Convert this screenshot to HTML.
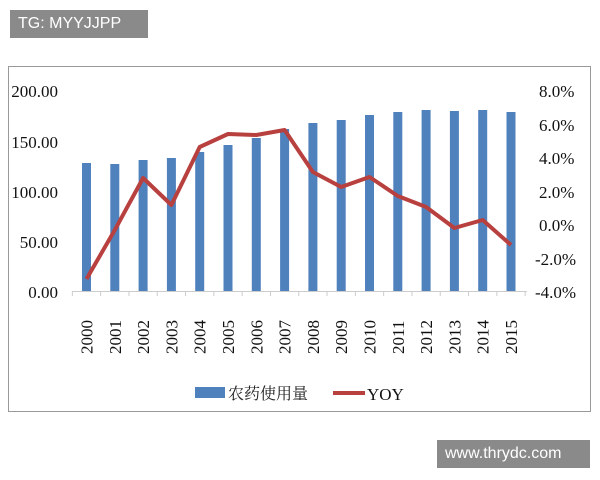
<!DOCTYPE html>
<html><head><meta charset="utf-8"><style>
body{margin:0;background:#fff;width:600px;height:480px;overflow:hidden;position:relative;font-family:"Liberation Serif","Noto Serif CJK SC",serif}
.wm{position:absolute;background:#8a8a8a;color:#fff;font-family:"Liberation Sans",sans-serif;font-size:16px;line-height:28px;padding:0 8px}
</style></head><body>
<svg width="600" height="480" style="position:absolute;left:0;top:0">
<rect x="8.5" y="66.5" width="582" height="345" fill="#fff" stroke="#999" stroke-width="1"/>
<g font-size="17" fill="#111" font-family="Liberation Serif,serif">
<text x="58" y="97" text-anchor="end">200.00</text>
<text x="58" y="148" text-anchor="end">150.00</text>
<text x="58" y="198" text-anchor="end">100.00</text>
<text x="58" y="248" text-anchor="end">50.00</text>
<text x="58" y="298" text-anchor="end">0.00</text>
<text x="539" y="97">8.0%</text>
<text x="539" y="131">6.0%</text>
<text x="539" y="164">4.0%</text>
<text x="539" y="198">2.0%</text>
<text x="539" y="231">0.0%</text>
<text x="535" y="265">-2.0%</text>
<text x="535" y="298">-4.0%</text>
</g>
<line x1="72" y1="291.5" x2="527" y2="291.5" stroke="#ccc"/>
<g id="tk" stroke="#ccc"></g>
<g fill="#4f81bd" id="bars"></g>
<polyline id="ln" fill="none" stroke="#b8403e" stroke-width="4" stroke-linejoin="round"/>
<g id="yrs" font-size="17" fill="#111"></g>
<rect x="195" y="387" width="30" height="11" fill="#4f81bd"/>
<text x="228" y="399" font-size="16" fill="#222">农药使用量</text>
<line x1="333" y1="393" x2="365" y2="393" stroke="#b8403e" stroke-width="4"/>
<text x="367" y="400" font-size="17" fill="#111">YOY</text>
</svg>
<div class="wm" style="left:10px;top:10px;width:122px">TG: MYYJJPP</div>
<div class="wm" style="left:437px;top:440px;width:137px">www.thrydc.com</div>
<script>
var v=[128,127,131,133,139,146,153,162,168,171,176,179,181,180,181,179];
var ly=[279,230,178,205,147,134,135,130,172,187,177,196,207,228,220,245];
var b="",p=[],t="",k="";
for(var i=0;i<16;i++){var c=86.5+28.3*i;
b+='<rect x="'+(c-4.5)+'" y="'+(291-v[i])+'" width="9" height="'+v[i]+'"/>';
p.push(c+","+ly[i]);
k+='<line x1="'+(c-14.15)+'" y1="291" x2="'+(c-14.15)+'" y2="296"/>';
t+='<text transform="translate('+(c+6)+',354) rotate(-90)">'+(2000+i)+'</text>';}
k+='<line x1="'+(86.5+28.3*15.5)+'" y1="291" x2="'+(86.5+28.3*15.5)+'" y2="296"/>';
document.getElementById("bars").innerHTML=b;
document.getElementById("tk").innerHTML=k;
document.getElementById("ln").setAttribute("points",p.join(" "));
document.getElementById("yrs").innerHTML=t;
</script>
</body></html>
